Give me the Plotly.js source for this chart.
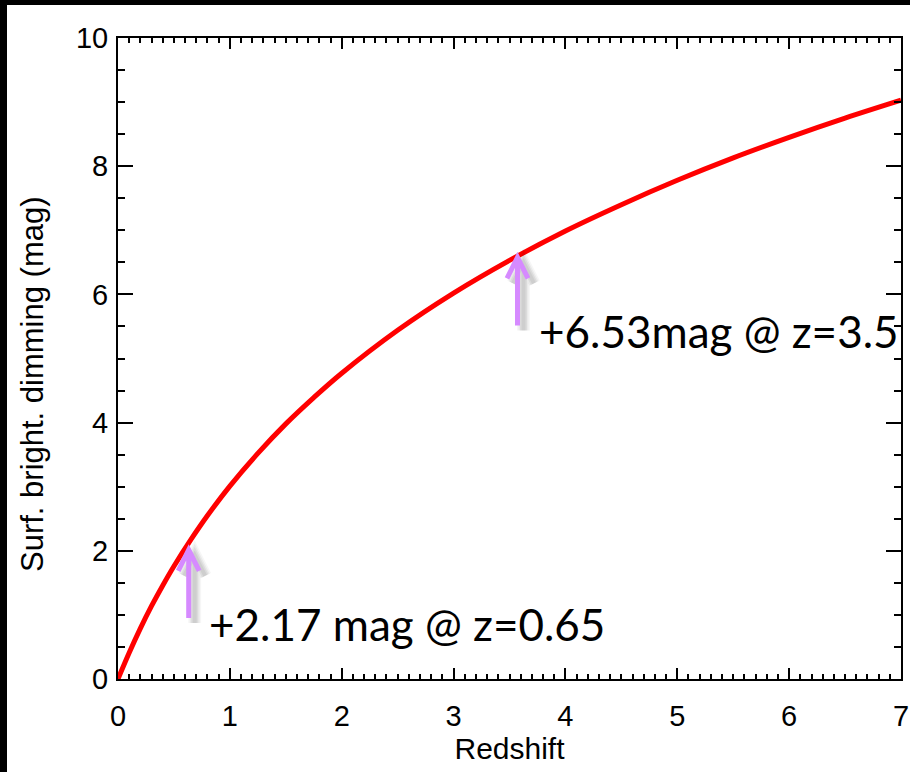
<!DOCTYPE html>
<html>
<head>
<meta charset="utf-8">
<script src="https://cdn.plot.ly/plotly-3.0.1.min.js"></script>
<style>
  html, body { margin: 0; padding: 0; background: #fff; }
  #frame { position: absolute; left: 0; top: 0; width: 903px; height: 767px;
           border-top: 5px solid #000; border-left: 7px solid #000; }
  #chart { width: 903px; height: 767px; }
</style>
</head>
<body>
<div id="frame"><div id="chart"></div></div>
<script>
// Redshift values and surface-brightness dimming (mag)
const redshift = [0, 0.1, 0.2, 0.3, 0.4, 0.5, 0.65, 0.8, 1.0, 1.25, 1.5, 1.75, 2.0, 2.5, 3.0, 3.5, 4.0, 4.5, 5.0, 5.5, 6.0, 6.5, 7.0];
const dimming  = [0, 0.41, 0.79, 1.14, 1.46, 1.76, 2.17, 2.55, 3.01, 3.52, 3.98, 4.39, 4.77, 5.44, 6.02, 6.53, 6.99, 7.40, 7.78, 8.13, 8.45, 8.75, 9.03];

// Marked points
const markZ    = [0.65, 3.5];
const markVal  = [2.17, 6.53];
const markText = ['+2.17 mag @ z=0.65', '+6.53mag @ z=3.5'];

// Tick settings and axis titles
const xTickVals = [0, 1, 2, 3, 4, 5, 6, 7];
const yTickVals = [0, 2, 4, 6, 8, 10];
const xTitle = 'Redshift';
const yTitle = 'Surf. bright. dimming (mag)';

const tickFont = {family: 'Liberation Sans, Arial, sans-serif', size: 29, color: '#000'};
const xTitleFont = {family: 'Liberation Sans, Arial, sans-serif', size: 30, color: '#000'};
const yTitleFont = {family: 'Liberation Sans, Arial, sans-serif', size: 31, color: '#000'};

// Arrow placement (pixel offsets of the arrow tip from the marked point)
const arrowTip = [[-2, -10], [8, 3]];
const textPos = [[0.795, 0.86], [3.745, 5.43]];

const shapes = [];
const annotations = [];
markZ.forEach((z, i) => {
  const [tx, ty] = arrowTip[i];
  const len = 68, armX = 10.5, armY = 21;
  const mk = (ox, oy) =>
    `M${tx+ox},${ty-len+oy} L${tx+ox},${ty+oy} M${tx-armX+ox},${ty-armY+oy} L${tx+ox},${ty+oy} L${tx+armX+ox},${ty-armY+oy}`;
  // soft shadow
  [[13, 'rgba(0,0,0,0.035)'], [10, 'rgba(0,0,0,0.05)'], [7, 'rgba(0,0,0,0.06)'], [4, 'rgba(0,0,0,0.06)']].forEach(([w, c]) => {
    shapes.push({type: 'path', xref: 'x', yref: 'y', xsizemode: 'pixel', ysizemode: 'pixel',
      xanchor: z, yanchor: markVal[i], path: mk(6, -5), line: {color: c, width: w}, layer: 'above'});
  });
  shapes.push({type: 'path', xref: 'x', yref: 'y', xsizemode: 'pixel', ysizemode: 'pixel',
    xanchor: z, yanchor: markVal[i], path: mk(0, 0), line: {color: '#d68aff', width: 5}, layer: 'above'});
  annotations.push({x: textPos[i][0], y: textPos[i][1], xref: 'x', yref: 'y', xanchor: 'left', yanchor: 'middle',
    text: markText[i], showarrow: false, font: {family: 'Lato, Open Sans, sans-serif', size: 44, color: '#000'}});
});

// y-axis title (placed as rotated text beside the axis)
annotations.push({x: -0.11, y: 0.46, xref: 'paper', yref: 'paper', xanchor: 'center', yanchor: 'middle',
  textangle: -90, text: yTitle, showarrow: false, font: yTitleFont});

const trace = {
  x: redshift, y: dimming, type: 'scatter', mode: 'lines',
  line: {color: '#ff0000', width: 5, shape: 'spline', smoothing: 1.0},
  hoverinfo: 'skip', cliponaxis: true
};

const axisCommon = {
  showline: true, linecolor: '#000', linewidth: 2, mirror: 'ticks',
  ticks: 'inside', tickcolor: '#000', tickwidth: 2, showgrid: false, zeroline: false,
  tickfont: tickFont
};

const layout = {
  width: 903, height: 767,
  margin: {l: 111, r: 9, t: 33, b: 93},
  paper_bgcolor: '#fff', plot_bgcolor: '#fff',
  showlegend: false,
  xaxis: Object.assign({}, axisCommon, {
    range: [0, 7], tickvals: xTickVals, ticklen: 11, ticklabelstandoff: 10,
    minor: {dtick: 0.1, ticklen: 5, ticks: 'inside', tickwidth: 2, tickcolor: '#000', showgrid: false},
    title: {text: xTitle, font: xTitleFont, standoff: 3}
  }),
  yaxis: Object.assign({}, axisCommon, {
    range: [0, 10], tickvals: yTickVals, ticklen: 15, ticklabelstandoff: 2,
    minor: {dtick: 0.5, ticklen: 7, ticks: 'inside', tickwidth: 2, tickcolor: '#000', showgrid: false}
  }),
  shapes: shapes,
  annotations: annotations
};

Plotly.newPlot('chart', [trace], layout, {displayModeBar: false, staticPlot: true});
</script>
</body>
</html>
